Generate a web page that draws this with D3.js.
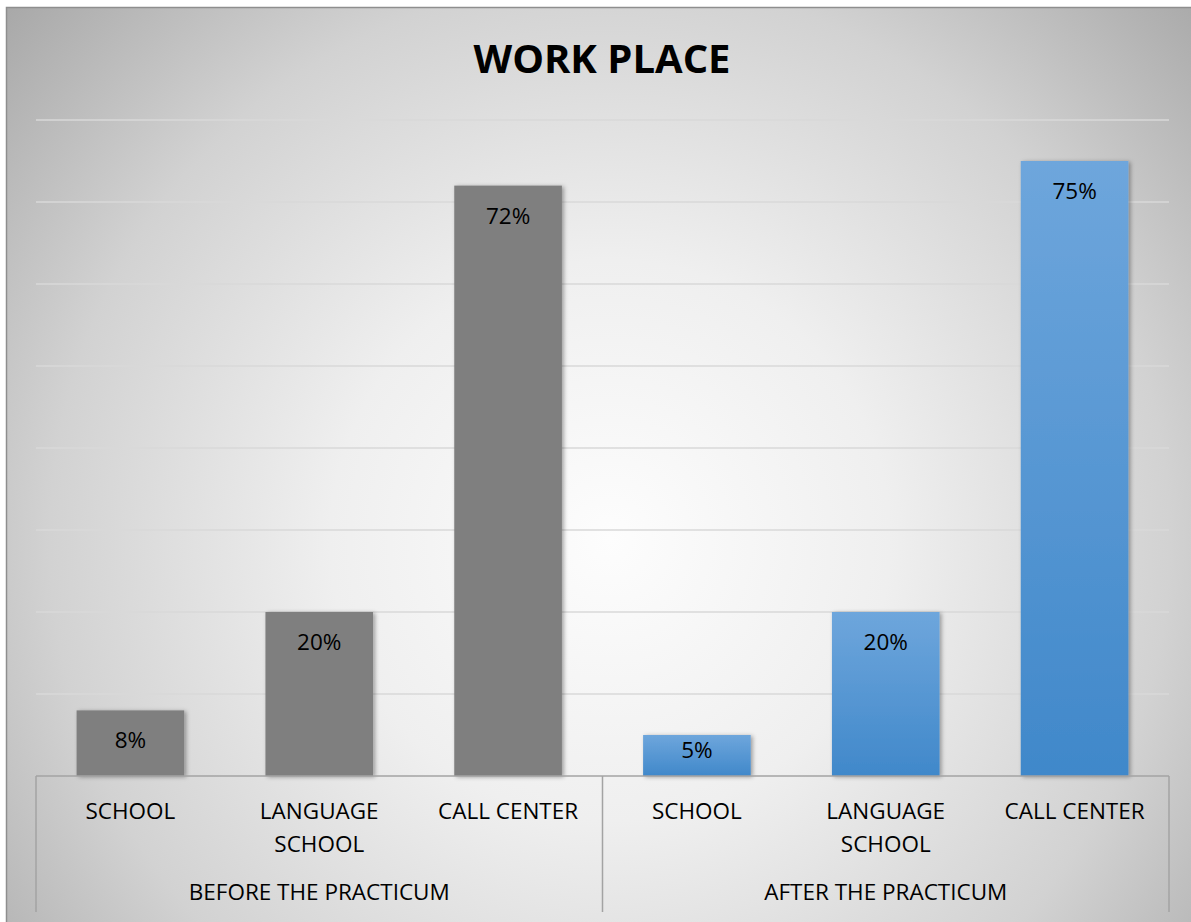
<!DOCTYPE html>
<html>
<head>
<meta charset="utf-8">
<script src="https://cdn.jsdelivr.net/npm/d3@7"></script>
<style>
  html, body { margin: 0; padding: 0; background: #fff; }
  svg text { font-family: "Open Sans", "Noto Sans", sans-serif; fill: #000; }
</style>
</head>
<body>
<div class="canvas"></div>
<script>
// data
const groups = ['BEFORE THE PRACTICUM', 'AFTER THE PRACTICUM'];
const categories = ['SCHOOL', 'LANGUAGE SCHOOL', 'CALL CENTER'];
const categoryLines = [['SCHOOL'], ['LANGUAGE', 'SCHOOL'], ['CALL CENTER']];
const beforeValues = [0.08, 0.20, 0.72];
const afterValues = [0.05, 0.20, 0.75];
const gridTicks = [0.1, 0.2, 0.3, 0.4, 0.5, 0.6, 0.7, 0.8];

const seriesValues = [beforeValues, afterValues];

// dimensions
const dims = { width: 1191, height: 922 };
const plot = { left: 36, right: 1169, top: 120, bottom: 776, axisBottom: 912 };

const svg = d3.select('.canvas')
    .append('svg')
    .attr('width', dims.width)
    .attr('height', dims.height);

const defs = svg.append('defs');

// radial background (white in the middle, gray at the edges)
const bg = defs.append('radialGradient')
    .attr('id', 'bg')
    .attr('gradientUnits', 'userSpaceOnUse')
    .attr('cx', 610).attr('cy', 540).attr('r', 800);
[[0, '#fdfdfd'], [0.35, '#efefef'], [0.7, '#d2d2d2'], [1, '#a9a9a9']].forEach(s => {
    bg.append('stop').attr('offset', s[0]).attr('stop-color', s[1]);
});

// blue bar fill
const blue = defs.append('linearGradient')
    .attr('id', 'blue')
    .attr('x1', 0).attr('y1', 0).attr('x2', 0).attr('y2', 1);
blue.append('stop').attr('offset', 0).attr('stop-color', '#6ea6dc');
blue.append('stop').attr('offset', 1).attr('stop-color', '#4088ca');

// soft bar shadow
defs.append('filter')
    .attr('id', 'shadow')
    .attr('x', '-10%').attr('y', '-10%').attr('width', '130%').attr('height', '130%')
  .append('feDropShadow')
    .attr('dx', 2).attr('dy', 1).attr('stdDeviation', 2)
    .attr('flood-color', '#000').attr('flood-opacity', 0.35);

// chart frame
svg.append('rect')
    .attr('x', 6.5).attr('y', 7.5)
    .attr('width', dims.width + 10).attr('height', dims.height + 10)
    .attr('fill', 'url(#bg)')
    .attr('stroke', '#8e8e8e')
    .attr('stroke-width', 1.5);

// title
svg.append('text')
    .attr('x', 602).attr('y', 73)
    .attr('text-anchor', 'middle')
    .attr('font-size', 40)
    .attr('font-weight', 'bold')
    .text('WORK PLACE');

// scales
const x0 = d3.scaleBand()
    .domain(groups)
    .range([plot.left, plot.right])
    .padding(0);

const x1 = d3.scaleBand()
    .domain(categories)
    .range([0, x0.bandwidth()])
    .paddingInner(0.43)
    .paddingOuter(0.215);

const y = d3.scaleLinear()
    .domain([0, 0.8])
    .range([plot.bottom, plot.top]);

// gridlines
svg.append('g')
    .selectAll('line')
    .data(gridTicks)
    .enter()
    .append('line')
        .attr('x1', plot.left).attr('x2', plot.right)
        .attr('y1', d => y(d)).attr('y2', d => y(d))
        .attr('stroke', '#d9d9d9')
        .attr('stroke-width', 1.5);

// bars
const graph = svg.append('g');

groups.forEach((g, gi) => {
    const data = categories.map((c, ci) => ({ cat: c, value: seriesValues[gi][ci] }));

    const grp = graph.append('g')
        .attr('transform', `translate(${x0(g)}, 0)`);

    grp.selectAll('rect')
        .data(data)
        .enter()
        .append('rect')
            .attr('x', d => x1(d.cat))
            .attr('y', d => y(d.value))
            .attr('width', x1.bandwidth())
            .attr('height', d => y(0) - y(d.value))
            .attr('fill', gi === 0 ? '#7f7f7f' : 'url(#blue)')
            .attr('filter', 'url(#shadow)');

    // value labels, inside end (pushed up when the bar is short)
    grp.selectAll('text.value')
        .data(data)
        .enter()
        .append('text')
            .attr('class', 'value')
            .attr('x', d => x1(d.cat) + x1.bandwidth() / 2)
            .attr('y', d => Math.min(y(d.value) + 38, y(0) - 18))
            .attr('text-anchor', 'middle')
            .attr('font-size', 22.5)
            .text(d => d3.format('.0%')(d.value));

    // category labels
    grp.selectAll('text.cat')
        .data(categories)
        .enter()
        .append('text')
            .attr('class', 'cat')
            .attr('text-anchor', 'middle')
            .attr('font-size', 22.5)
            .each(function(c, ci) {
                const t = d3.select(this);
                categoryLines[ci].forEach((line, li) => {
                    t.append('tspan')
                        .attr('x', x1(c) + x1.bandwidth() / 2)
                        .attr('y', 819 + li * 33)
                        .text(line);
                });
            });

    // group label
    svg.append('text')
        .attr('x', x0(g) + x0.bandwidth() / 2)
        .attr('y', 900)
        .attr('text-anchor', 'middle')
        .attr('font-size', 22.5)
        .text(g);
});

// axis lines
const axis = svg.append('g')
    .attr('stroke', '#a3a3a3')
    .attr('stroke-width', 1.5);

axis.append('line')
    .attr('x1', plot.left).attr('x2', plot.right)
    .attr('y1', plot.bottom).attr('y2', plot.bottom);

const dividers = groups.map(g => x0(g)).concat([plot.right]);
axis.selectAll('line.div')
    .data(dividers)
    .enter()
    .append('line')
        .attr('class', 'div')
        .attr('x1', d => d).attr('x2', d => d)
        .attr('y1', plot.bottom).attr('y2', plot.axisBottom);
</script>
</body>
</html>
